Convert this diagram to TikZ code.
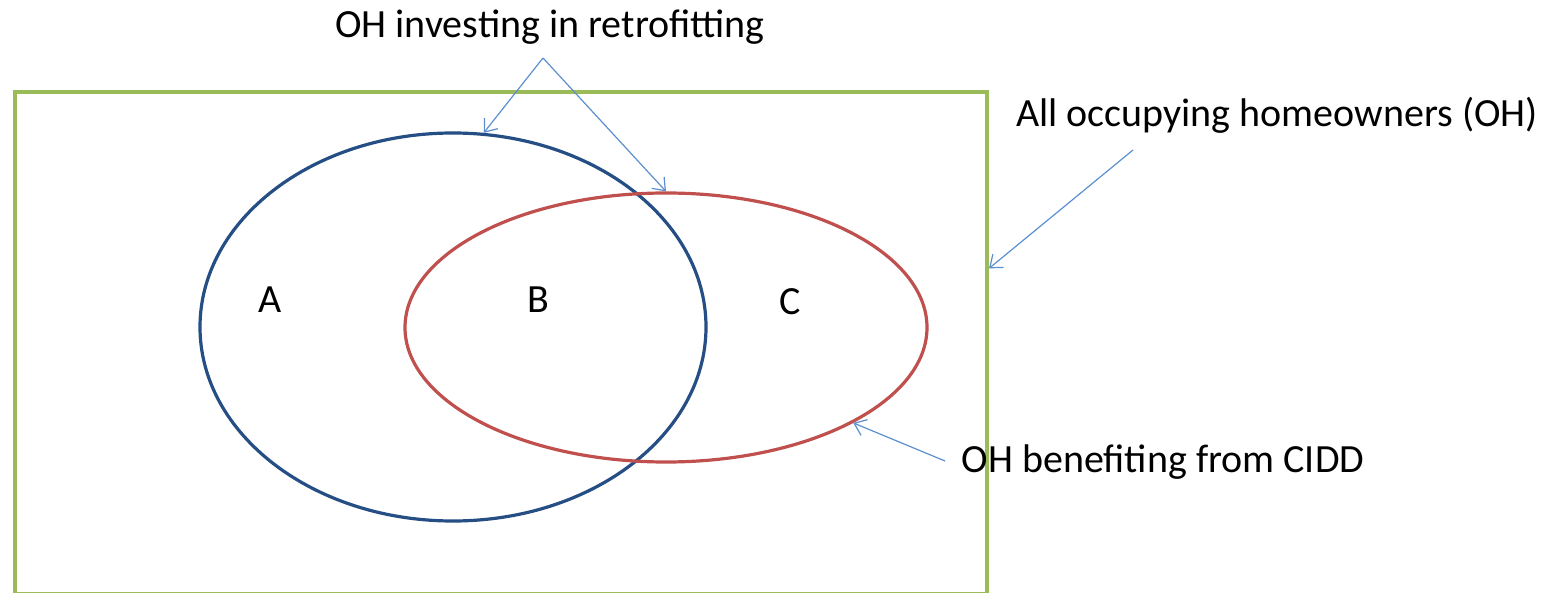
\documentclass[tikz,border=0pt]{standalone}
\usepackage{fontspec}
\setmainfont{Carlito}
\usetikzlibrary{arrows.meta,shapes.geometric,calc}
\definecolor{boxgreen}{HTML}{9BBB59}
\definecolor{setblue}{HTML}{254E85}
\definecolor{setred}{HTML}{C0504D}
\definecolor{arrblue}{HTML}{5B8FD0}
\tikzset{
  lbl/.style={font=\fontsize{40}{46}\selectfont, inner sep=0pt},
  pointer/.style={draw=arrblue, line width=1.2pt, -{Straight Barb[length=11pt,width=17pt]}},
}
\begin{document}
\begin{tikzpicture}[x=1pt,y=-1pt]
\useasboundingbox (0,0) rectangle (1549,593);
\node[draw=boxgreen, line width=4pt, minimum width=972pt, minimum height=502pt, inner sep=0pt, anchor=north west] (all) at (13,90) {};
\node[draw=setblue, line width=3.2pt, ellipse, minimum width=506pt, minimum height=388pt, inner sep=0pt] (blue) at (453,327) {};
\node[draw=setred, line width=3.2pt, ellipse, minimum width=522pt, minimum height=269pt, inner sep=0pt] (red) at (666,327.5) {};
\node[lbl] (A) at (270,300) {A};
\node[lbl] (B) at (538,300) {B};
\node[lbl] (C) at (790,302) {C};
\node[lbl] (inv) at (550,27) {OH investing in retrofitting};
\node[lbl] (allt) at (1277,115) {All occupying homeowners (OH)};
\node[lbl] (ben) at (1163,462) {OH benefiting from CIDD};
\coordinate (invp) at (543,58);
\coordinate (allp) at (1133,150);
\coordinate (benp) at (945,461);
\draw[pointer] (invp) -- (blue.81);
\draw[pointer] (invp) -- (red.90);
\draw[pointer] (allp) -- ($(all.north east)!0.3526!(all.south east)$);
\draw[pointer] (benp) -- (red.333);
\end{tikzpicture}
\end{document}
